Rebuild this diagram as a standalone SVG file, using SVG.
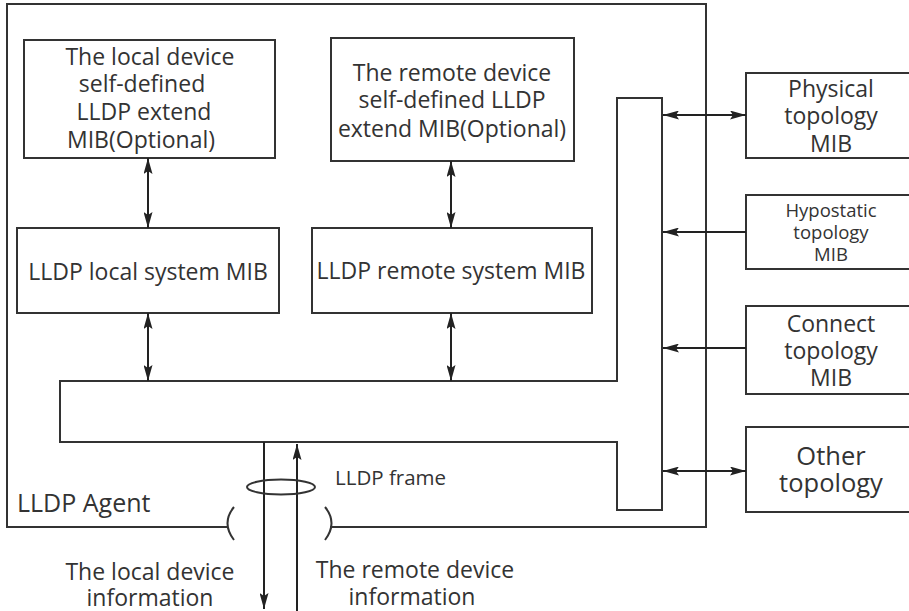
<svg xmlns="http://www.w3.org/2000/svg" width="909" height="611" viewBox="0 0 909 611">
<defs>
<marker id="ah" viewBox="0 0 16 9" refX="16" refY="4.5" markerWidth="16" markerHeight="9" markerUnits="userSpaceOnUse" orient="auto-start-reverse">
<path d="M0,0 L16,4.5 L0,9 L3,4.5 Z" fill="#222"/>
</marker>
</defs>
<style>
.box{fill:#fff;stroke:#333;stroke-width:2}
.ln{fill:none;stroke:#333;stroke-width:2}
.ar{fill:none;stroke:#222;stroke-width:2}
text{font-family:"Open Sans","Noto Sans","DejaVu Sans",sans-serif;fill:#333;font-size:23px}
.c{text-anchor:middle}
.sm{font-size:18.5px}
.lg{font-size:25.5px}
.ag{font-size:25px}
.fr{font-size:20.5px}
</style>
<rect width="909" height="611" fill="#fff"/>
<g id="agent">
<path class="ln" d="M228,527 L7,527 L7,4 L706,4 L706,527 L330,527"/>
<path class="ln" stroke-width="2.5" d="M234,507 Q221,523 234,540"/>
<path class="ln" stroke-width="2.5" d="M325,507 Q338,523 325,540"/>
<text class="ag" x="17" y="512">LLDP Agent</text>
</g>
<g id="local-ext">
<rect class="box" x="24" y="40" width="251" height="118"/>
<text class="c" x="150" y="65">The local device</text>
<text class="c" x="142" y="92">self-defined</text>
<text class="c" x="144" y="120">LLDP extend</text>
<text class="c" x="141" y="148">MIB(Optional)</text>
</g>
<g id="remote-ext">
<rect class="box" x="331" y="38" width="243" height="123"/>
<text class="c" x="452" y="81">The remote device</text>
<text class="c" x="452" y="108">self-defined LLDP</text>
<text class="c" x="452" y="137">extend MIB(Optional)</text>
</g>
<g id="local-sys">
<rect class="box" x="17" y="228" width="262" height="85"/>
<text class="c" x="148" y="280">LLDP local system MIB</text>
</g>
<g id="remote-sys">
<rect class="box" x="312" y="228" width="280" height="85"/>
<text class="c" x="451" y="279">LLDP remote system MIB</text>
</g>
<g id="bus">
<path class="box" d="M60,381 L617,381 L617,98 L662,98 L662,510 L617,510 L617,442 L60,442 Z"/>
</g>
<g id="physical">
<rect class="box" x="746" y="73" width="170" height="85"/>
<text class="c" x="831" y="97">Physical</text>
<text class="c" x="831" y="124">topology</text>
<text class="c" x="831" y="152">MIB</text>
</g>
<g id="hypostatic">
<rect class="box" x="746" y="195" width="170" height="74"/>
<text class="c sm" x="831" y="217">Hypostatic</text>
<text class="c sm" x="831" y="239">topology</text>
<text class="c sm" x="831" y="261">MIB</text>
</g>
<g id="connect">
<rect class="box" x="746" y="306" width="170" height="88"/>
<text class="c" x="831" y="332">Connect</text>
<text class="c" x="831" y="359">topology</text>
<text class="c" x="831" y="386">MIB</text>
</g>
<g id="other">
<rect class="box" x="746" y="427" width="170" height="85"/>
<text class="c lg" x="831" y="465">Other</text>
<text class="c lg" x="831" y="492">topology</text>
</g>
<g id="connectors">
<line class="ar" x1="148" y1="158" x2="148" y2="228" marker-start="url(#ah)" marker-end="url(#ah)"/>
<line class="ar" x1="451" y1="161" x2="451" y2="228" marker-start="url(#ah)" marker-end="url(#ah)"/>
<line class="ar" x1="148" y1="313" x2="148" y2="381" marker-start="url(#ah)" marker-end="url(#ah)"/>
<line class="ar" x1="451" y1="313" x2="451" y2="381" marker-start="url(#ah)" marker-end="url(#ah)"/>
<line class="ar" x1="663" y1="115" x2="746" y2="115" marker-start="url(#ah)" marker-end="url(#ah)"/>
<line class="ar" x1="746" y1="232" x2="663" y2="232" marker-end="url(#ah)"/>
<line class="ar" x1="746" y1="348" x2="663" y2="348" marker-end="url(#ah)"/>
<line class="ar" x1="663" y1="471" x2="746" y2="471" marker-start="url(#ah)" marker-end="url(#ah)"/>
<line class="ar" x1="264" y1="442" x2="264" y2="609" marker-end="url(#ah)"/>
<line class="ar" x1="297" y1="615" x2="297" y2="444" marker-end="url(#ah)"/>
<ellipse cx="281" cy="487" rx="34" ry="7.5" fill="none" stroke="#333" stroke-width="2"/>
<text class="fr" x="335" y="485">LLDP frame</text>
</g>
<g id="labels">
<text class="c" x="150" y="580">The local device</text>
<text class="c" x="150" y="606">information</text>
<text class="c" x="415" y="578">The remote device</text>
<text class="c" x="412" y="605">information</text>
</g>
</svg>
